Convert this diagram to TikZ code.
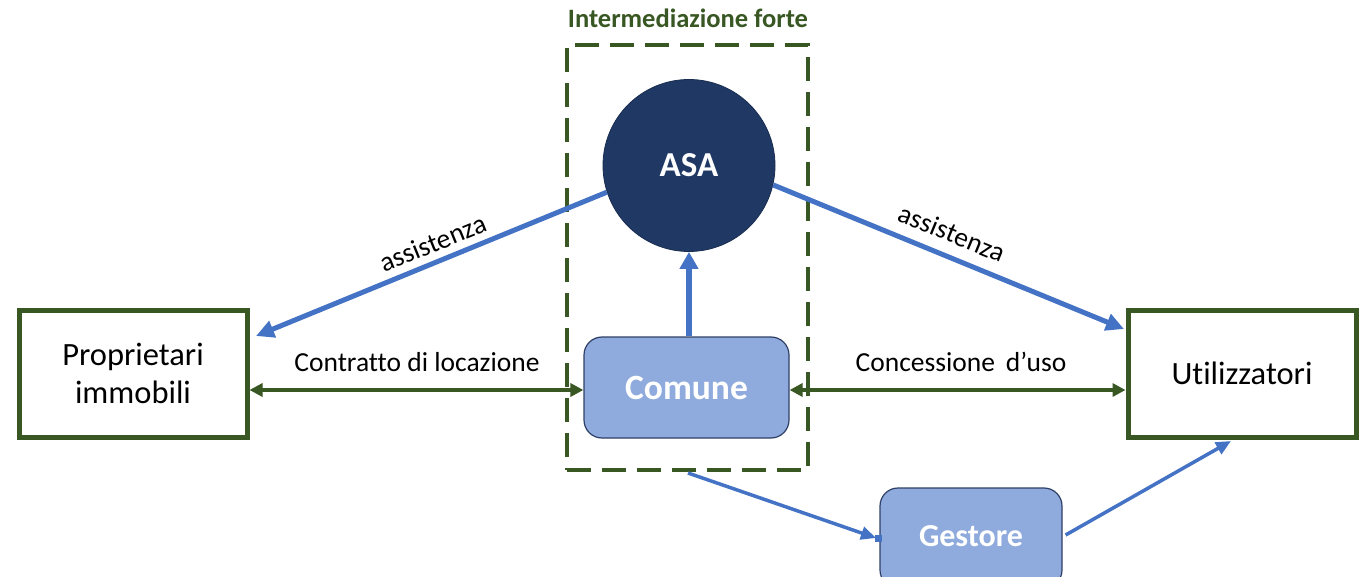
\documentclass[tikz,border=0pt]{standalone}
\usepackage{fontspec}
\setmainfont{Carlito}[Ligatures=NoCommon]
\usetikzlibrary{arrows.meta,calc}
\definecolor{dgreen}{HTML}{385723}
\definecolor{navy}{HTML}{1F3864}
\definecolor{arrowblue}{HTML}{4472C4}
\definecolor{lightblue}{HTML}{8FAADC}
\definecolor{boxedge}{HTML}{2F3F66}
\begin{document}
\begin{tikzpicture}[x=1pt,y=-1pt,
  actor/.style={draw=dgreen,line width=5pt,minimum width=228pt,minimum height=127pt,inner sep=0pt,align=center,font=\fontsize{32.5}{38}\selectfont},
  bluebox/.style={draw=boxedge,line width=1.2pt,fill=lightblue,rounded corners=18pt,inner sep=0pt,text=white,font=\bfseries\fontsize{35.5}{40}\selectfont},
  lbl/.style={font=\fontsize{27.5}{32}\selectfont,inner sep=0pt},
  bigarrow/.style={draw=arrowblue,line width=5pt,-{Triangle[length=18pt,width=17pt]}},
  smallarrow/.style={draw=arrowblue,line width=3.5pt,-{Triangle[length=15pt,width=13pt]}},
  greenarrow/.style={draw=dgreen,line width=3.5pt,{Triangle[length=13pt,width=13pt]}-{Triangle[length=13pt,width=13pt]}},
]
\clip (0,0) rectangle (1370,577);
\fill[white] (0,0) rectangle (1370,577);

% dashed frame and title
\node[draw=dgreen,line width=4pt,dash pattern=on 24pt off 11pt,minimum width=241pt,minimum height=425pt,inner sep=0pt] (frame) at (687.5,257.5) {};
\node[font=\bfseries\fontsize{26.5}{30}\selectfont,text=dgreen,inner sep=0pt] (title) at (688,18) {Intermediazione forte};

% actors
\node[actor] (prop) at (133,373.5) {Proprietari\\immobili};
\node[actor] (util) at (1242,373.5) {Utilizzatori};

% ASA circle
\node[circle,fill=navy,draw=navy!80!black,line width=0.8pt,minimum size=172pt,inner sep=0pt,text=white,font=\bfseries\fontsize{35}{40}\selectfont] (asa) at (689,165.5) {ASA};

% Comune and Gestore
\node[bluebox,minimum width=205pt,minimum height=101pt] (comune) at (686.5,387.5) {Comune};
\node[bluebox,minimum width=182pt,minimum height=100pt,font=\bfseries\fontsize{32}{36}\selectfont] (gestore) at (971,538) {\raisebox{3pt}{Gestore}};

% connector end points
\coordinate (pa) at (256,336);
\coordinate (ua) at (1124,329);
\coordinate (gs) at (688,473);
\coordinate (ge) at (876,538);
\coordinate (ut) at (1231,441);

% blue arrows
\draw[bigarrow] (asa.198) -- (pa);
\draw[bigarrow] (asa.-13) -- (ua);
\draw[draw=arrowblue,line width=6.5pt,-{Triangle[length=17pt,width=18pt]}] (comune.north -| asa.south) -- (asa.south);
\draw[smallarrow] (gs) -- (ge);
\fill[arrowblue] ($(gestore.west)+(-4,-3.5)$) rectangle ($(gestore.west)+(3,3.5)$);
\draw[smallarrow] ($(gestore.east)+(3,-3)$) -- (ut);

% green arrows
\draw[greenarrow] (prop.east |- 0,390) -- (comune.west |- 0,390);
\draw[greenarrow] (comune.east |- 0,390) -- (util.west |- 0,390);

% labels
\node[lbl] (l1) at (417,362) {Contratto di locazione};
\node[lbl] (l2) at (961,362) {Concessione\, d’uso};
\node[lbl,rotate=22.2] (l3) at (433,243) {assistenza};
\node[lbl,rotate=-22.4] (l4) at (952,233) {assistenza};
\end{tikzpicture}
\end{document}
